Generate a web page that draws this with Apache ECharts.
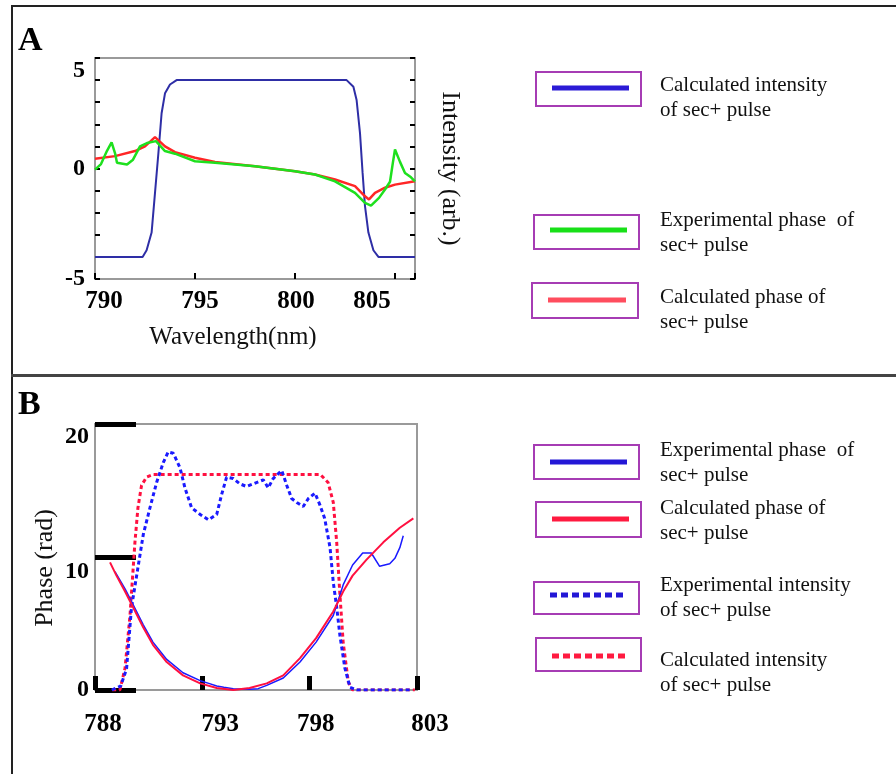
<!DOCTYPE html>
<html>
<head>
<meta charset="utf-8">
<script src="https://cdn.jsdelivr.net/npm/echarts@6/dist/echarts.min.js"></script>
<style>html,body{margin:0;padding:0;background:#fff;}#c{width:896px;height:774px;}</style>
</head>
<body>
<div id="c"></div>
<script>
// ---------- Panel A data ----------
var aIntensityX = [790, 792.0, 792.38, 792.58, 792.83, 793.0, 793.17, 793.33, 793.5, 793.75, 794.08, 802.58, 802.92, 803.08, 803.25, 803.38, 803.5, 803.67, 803.92, 804.17, 806];
var aIntensityY = [-4, -4, -4, -3.7, -2.9, -1.1, 0.7, 2.5, 3.4, 3.8, 4.0, 4.0, 3.7, 3.1, 1.6, -0.2, -1.7, -2.9, -3.7, -4, -4];
var aExpPhaseX = [790, 790.3, 790.6, 790.83, 791.0, 791.1, 791.6, 791.9, 792.25, 792.6, 793.05, 793.5, 794, 795, 796, 798, 800, 801, 802, 803, 803.5, 803.8, 804.2, 804.5, 804.75, 804.9, 805, 805.1, 805.25, 805.5, 805.8, 806];
var aExpPhaseY = [-0.05, 0.2, 0.8, 1.18, 0.7, 0.26, 0.18, 0.4, 1.0, 1.15, 1.24, 0.79, 0.67, 0.33, 0.26, 0.1, -0.12, -0.27, -0.58, -1.1, -1.56, -1.68, -1.33, -0.95, -0.6, 0.3, 0.86, 0.8, 0.3, -0.2, -0.4, -0.58];
var aCalcPhaseX = [790, 791, 792, 792.5, 793, 793.5, 794, 795, 796, 798, 800, 801, 802, 803, 803.5, 803.7, 804, 804.5, 805, 806];
var aCalcPhaseY = [0.44, 0.56, 0.79, 1.0, 1.42, 1.0, 0.74, 0.49, 0.29, 0.1, -0.12, -0.27, -0.5, -0.8, -1.26, -1.4, -1.1, -0.87, -0.73, -0.58];

// ---------- Panel B data ----------
var bExpPhaseX = [788.93, 789.4, 789.78, 790.25, 790.7, 791.34, 792.1, 792.9, 793.3, 793.67, 794.0, 794.44, 795.2, 795.6, 796.0, 796.77, 797.55, 798.3, 799.1, 799.56, 800.0, 800.47, 800.87, 801.26, 801.73, 801.97, 802.2, 802.36];
var bExpPhaseY = [8.9, 7.6, 6.4, 4.9, 3.6, 2.3, 1.3, 0.7, 0.5, 0.3, 0.2, 0.1, 0.05, 0.1, 0.35, 0.9, 2.1, 3.6, 5.6, 7.9, 9.4, 10.3, 10.3, 9.3, 9.5, 9.9, 10.7, 11.6];
var bCalcPhaseX = [788.7, 789.0, 789.4, 789.78, 790.25, 790.7, 791.34, 792.1, 792.9, 793.67, 794.44, 795.2, 796.0, 796.77, 797.55, 798.3, 799.1, 799.56, 800.0, 800.65, 801.43, 802.2, 802.83];
var bCalcPhaseY = [9.6, 8.6, 7.4, 6.2, 4.7, 3.4, 2.1, 1.1, 0.5, 0.15, 0, 0.15, 0.5, 1.1, 2.4, 3.9, 5.9, 7.4, 8.6, 9.8, 11.1, 12.2, 12.9];
var bExpIntX = [788.78, 789.2, 789.47, 789.7, 789.94, 790.25, 790.56, 790.87, 791.18, 791.41, 791.65, 791.96, 792.19, 792.5, 792.9, 793.28, 793.67, 793.9, 794.13, 794.44, 794.75, 795.06, 795.37, 795.84, 796.07, 796.3, 796.7, 796.93, 797.16, 797.4, 797.7, 797.94, 798.25, 798.48, 798.7, 798.95, 799.1, 799.26, 799.41, 799.64, 799.88, 800.19, 802.8];
var bExpIntY = [0, 0.3, 1.6, 6.2, 8.6, 11.7, 13.7, 15.6, 17.1, 17.9, 17.8, 16.7, 15.2, 13.7, 13.2, 12.8, 13.2, 14.7, 16.0, 15.9, 15.5, 15.3, 15.5, 15.8, 15.2, 15.9, 16.5, 15.4, 14.4, 14.1, 13.8, 14.4, 14.8, 13.9, 12.9, 10.7, 8.1, 6.2, 4.1, 1.65, 0.2, 0, 0];
var bCalcIntX = [788.8, 789.16, 789.4, 789.63, 789.86, 790.0, 790.17, 790.4, 790.7, 798.5, 798.86, 799.1, 799.26, 799.4, 799.56, 799.8, 800.0, 802.9];
var bCalcIntY = [0, 0, 1.65, 5.6, 11.1, 13.7, 15.4, 16.0, 16.2, 16.2, 15.6, 14.1, 11.1, 7.4, 3.6, 0.6, 0, 0];

// ---------- Text ----------
var legendA = [
  ["Calculated intensity", "of sec+ pulse"],
  ["Experimental phase  of", "sec+ pulse"],
  ["Calculated phase of", "sec+ pulse"]
];
var legendB = [
  ["Experimental phase  of", "sec+ pulse"],
  ["Calculated phase of", "sec+ pulse"],
  ["Experimental intensity", "of sec+ pulse"],
  ["Calculated intensity", "of sec+ pulse"]
];

function zip(xs, ys) { return xs.map(function (x, i) { return [x, ys[i]]; }); }

var SERIF = '"Liberation Serif", "DejaVu Serif", serif';
var cA_blue = '#2e2ea6', cA_green = '#1ee01e', cA_red = '#ff2626';
var cB_blue = '#1a1aff', cB_red = '#ff1040';
var purple = '#a63cb4';

function legendItem(x, y, w, h, lineY, color, dashed, lines, textX, textY) {
  return [
    { type: 'rect', shape: { x: x, y: y, width: w, height: h }, style: { fill: 'none', stroke: purple, lineWidth: 2 } },
    { type: 'line', shape: { x1: x + 16, y1: lineY, x2: x + w - 12, y2: lineY }, style: { stroke: color, lineWidth: 5, lineDash: dashed ? [7, 4] : null } },
    { type: 'text', x: textX, y: textY, style: { text: lines.join('\n'), font: '21px ' + SERIF, fill: '#111', lineHeight: 25, textVerticalAlign: 'top' } }
  ];
}

var graphics = [
  { type: 'line', shape: { x1: 11, y1: 6, x2: 896, y2: 6 }, style: { stroke: '#222', lineWidth: 2 } },
  { type: 'line', shape: { x1: 12, y1: 5, x2: 12, y2: 774 }, style: { stroke: '#222', lineWidth: 2 } },
  { type: 'line', shape: { x1: 11, y1: 375.5, x2: 896, y2: 375.5 }, style: { stroke: '#444', lineWidth: 3 } },
  { type: 'text', x: 18, y: 24, style: { text: 'A', font: 'bold 34px ' + SERIF, fill: '#000' } },
  { type: 'text', x: 18, y: 388, style: { text: 'B', font: 'bold 34px ' + SERIF, fill: '#000' } }
];
graphics = graphics
  .concat(legendItem(536, 72, 105, 34, 88, '#2b1bd6', false, legendA[0], 660, 73))
  .concat(legendItem(534, 215, 105, 34, 230, '#18e018', false, legendA[1], 660, 208))
  .concat(legendItem(532, 283, 106, 35, 300, '#ff4d5e', false, legendA[2], 660, 285))
  .concat(legendItem(534, 445, 105, 34, 462, '#2317d6', false, legendB[0], 660, 438))
  .concat(legendItem(536, 502, 105, 35, 519, '#ff1a40', false, legendB[1], 660, 496))
  .concat(legendItem(534, 582, 105, 32, 595, '#2317d6', true, legendB[2], 660, 573))
  .concat(legendItem(536, 638, 105, 33, 656, '#ff1a40', true, legendB[3], 660, 648));

var labelFont = { fontFamily: SERIF, fontWeight: 'bold', fontSize: 25, color: '#000' };
function richPad(pad) { return Object.assign({ padding: pad }, labelFont); }

// label nudges reproducing the original figure's offset tick labels
var richA_x = { p0: richPad([0, 0, 0, 18]), p1: richPad([0, 0, 0, 10]), p2: richPad([0, 0, 0, 2]), p3: richPad([0, 46, 0, 0]) };
var richB_x = { p0: richPad([0, 0, 0, 16]), p1: richPad([0, 0, 0, 36]), p2: richPad([0, 0, 0, 12]), p3: richPad([0, 0, 0, 26]) };
var richY = {
  dn: Object.assign({ padding: [26, 0, 0, 0] }, labelFont, { fontSize: 24 }),
  dn10: Object.assign({ padding: [30, 0, 0, 0] }, labelFont, { fontSize: 24 }),
  n: Object.assign({}, labelFont, { fontSize: 24 })
};

var option = {
  animation: false,
  backgroundColor: '#fff',
  grid: [
    { left: 95, top: 58, width: 320, height: 221, show: true, borderColor: '#9a9a9a', borderWidth: 2, containLabel: false },
    { left: 95, top: 424, width: 322, height: 266, show: true, borderColor: '#9a9a9a', borderWidth: 2, containLabel: false }
  ],
  xAxis: [
    {
      gridIndex: 0, type: 'value', min: 790, max: 806, interval: 5,
      name: 'Wavelength(nm)', nameLocation: 'middle', nameGap: 46,
      nameTextStyle: { fontFamily: SERIF, fontSize: 25, color: '#111', padding: [0, 44, 0, 0] },
      axisLine: { show: false, onZero: false },
      axisTick: { show: true, inside: true, length: 6, lineStyle: { color: '#000', width: 2 } },
      splitLine: { show: false },
      axisLabel: Object.assign({ margin: 10, rich: richA_x, formatter: function (v) {
        if (v % 5 !== 0) return '';
        return '{p' + Math.round((v - 790) / 5) + '|' + v + '}';
      } }, labelFont)
    },
    {
      gridIndex: 1, type: 'value', min: 788, max: 803, interval: 5,
      axisLine: { show: false, onZero: false },
      axisTick: { show: true, inside: true, length: 14, lineStyle: { color: '#000', width: 5 } },
      splitLine: { show: false },
      axisLabel: Object.assign({ margin: 22, rich: richB_x, formatter: function (v) {
        return '{p' + Math.round((v - 788) / 5) + '|' + v + '}';
      } }, labelFont)
    }
  ],
  yAxis: [
    {
      gridIndex: 0, type: 'value', min: -5, max: 5, interval: 1,
      axisLine: { show: false, onZero: false },
      axisTick: { show: true, inside: true, length: 5, lineStyle: { color: '#000', width: 2 } },
      splitLine: { show: false },
      axisLabel: Object.assign({ margin: 10, rich: richY, formatter: function (v) {
        if (v % 5 !== 0) return '';
        return v === 5 ? '{dn|5}' : '{n|' + v + '}';
      } }, labelFont, { fontSize: 24 })
    },
    {
      gridIndex: 0, type: 'value', min: -5, max: 5, interval: 1, position: 'right',
      name: 'Intensity (arb.)', nameLocation: 'middle', nameGap: 22, nameRotate: -90,
      nameTextStyle: { fontFamily: SERIF, fontSize: 26, color: '#111' },
      axisLine: { show: false, onZero: false },
      axisTick: { show: true, inside: true, length: 5, lineStyle: { color: '#000', width: 2 } },
      splitLine: { show: false },
      axisLabel: { show: false }
    },
    {
      gridIndex: 1, type: 'value', min: 0, max: 20, interval: 10,
      name: 'Phase (rad)', nameLocation: 'middle', nameGap: 37,
      nameTextStyle: { fontFamily: SERIF, fontSize: 26, color: '#111', padding: [0, 22, 0, 0] },
      axisLine: { show: false, onZero: false },
      axisTick: { show: true, inside: true, length: 41, lineStyle: { color: '#000', width: 5 } },
      splitLine: { show: false },
      axisLabel: Object.assign({ margin: 6, rich: richY, formatter: function (v) {
        if (v === 20) return '{dn|20}';
        if (v === 10) return '{dn10|10}';
        return '{n|' + v + '}';
      } }, labelFont, { fontSize: 24 })
    }
  ],
  series: [
    { name: 'Calculated intensity (A)', type: 'line', xAxisIndex: 0, yAxisIndex: 0, data: zip(aIntensityX, aIntensityY), showSymbol: false, lineStyle: { color: cA_blue, width: 2 } },
    { name: 'Calculated phase (A)', type: 'line', xAxisIndex: 0, yAxisIndex: 0, data: zip(aCalcPhaseX, aCalcPhaseY), showSymbol: false, lineStyle: { color: cA_red, width: 2.5 } },
    { name: 'Experimental phase (A)', type: 'line', xAxisIndex: 0, yAxisIndex: 0, data: zip(aExpPhaseX, aExpPhaseY), showSymbol: false, lineStyle: { color: cA_green, width: 2.5 } },
    { name: 'Calculated intensity (B)', type: 'line', xAxisIndex: 1, yAxisIndex: 2, data: zip(bCalcIntX, bCalcIntY), showSymbol: false, lineStyle: { color: cB_red, width: 3, type: [4, 3] } },
    { name: 'Experimental intensity (B)', type: 'line', xAxisIndex: 1, yAxisIndex: 2, data: zip(bExpIntX, bExpIntY), showSymbol: false, lineStyle: { color: cB_blue, width: 3, type: [4, 3] } },
    { name: 'Experimental phase (B)', type: 'line', xAxisIndex: 1, yAxisIndex: 2, data: zip(bExpPhaseX, bExpPhaseY), showSymbol: false, lineStyle: { color: cB_blue, width: 1.5 } },
    { name: 'Calculated phase (B)', type: 'line', xAxisIndex: 1, yAxisIndex: 2, data: zip(bCalcPhaseX, bCalcPhaseY), showSymbol: false, lineStyle: { color: cB_red, width: 2 } }
  ],
  graphic: graphics
};

var chart = echarts.init(document.getElementById('c'), null, { renderer: 'canvas' });
chart.setOption(option);
</script>
</body>
</html>
